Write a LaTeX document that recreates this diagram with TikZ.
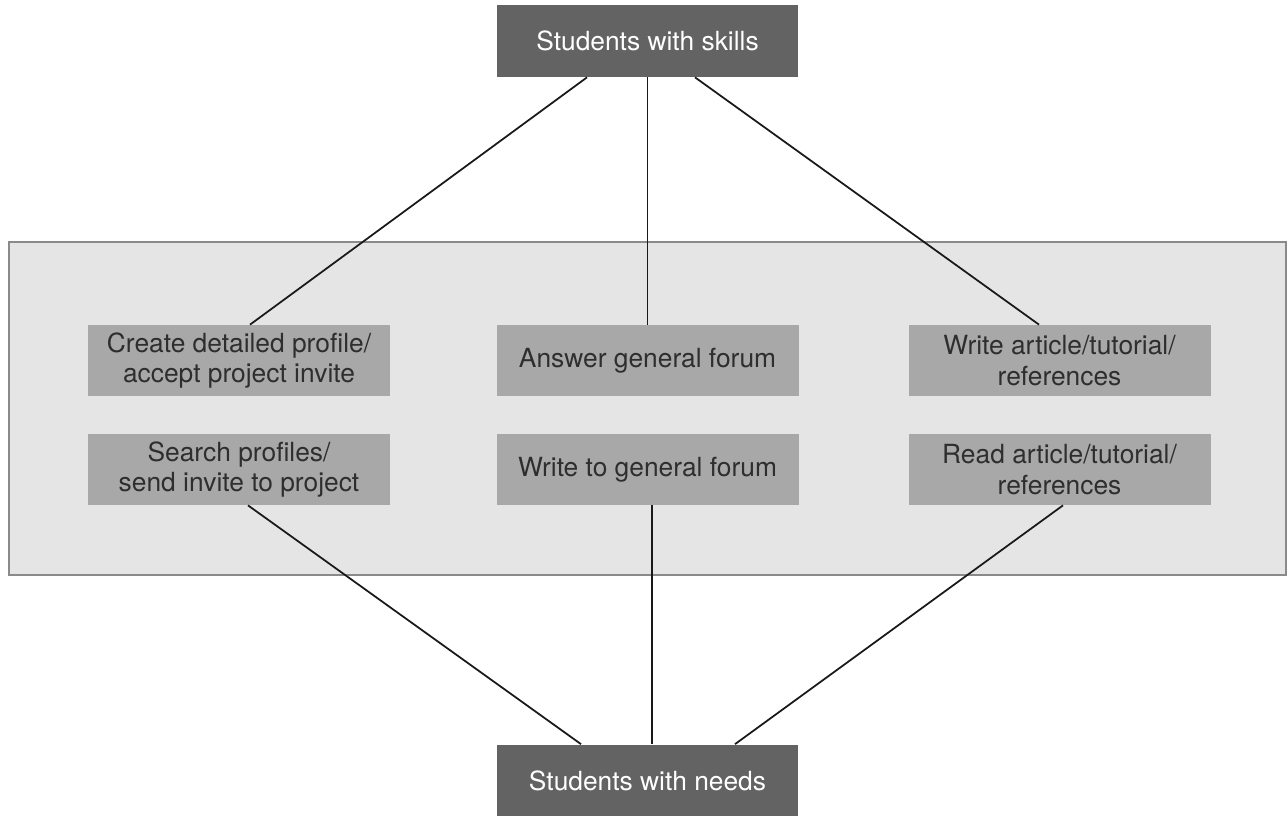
\documentclass[tikz,border=0pt]{standalone}
\usepackage{fontspec}
\setmainfont{TeX Gyre Heros}
\definecolor{darkbox}{HTML}{636363}
\definecolor{midbox}{HTML}{A8A8A8}
\definecolor{panel}{HTML}{E5E5E5}
\definecolor{panelline}{HTML}{8A8A8A}
\definecolor{boxtext}{HTML}{2E2E2E}

\begin{document}
\begin{tikzpicture}[outer/.style={fill=darkbox,text=white,minimum width=6.02cm,minimum height=1.44cm,inner sep=0pt,font=\fontsize{15}{17.5}\selectfont},
    inner/.style={fill=midbox,text=boxtext,minimum width=6.04cm,minimum height=1.42cm,inner sep=0pt,align=center,font=\fontsize{15}{17.5}\selectfont},
    link/.style={line width=1pt,color=black!90}]
    \useasboundingbox (0,0) rectangle (25.76,16.3);
    \fill[white] (0,0) rectangle (25.76,16.3);
    \draw[panelline,fill=panel,line width=0.8pt] (0.18,4.8) rectangle (25.72,11.46);
    \node[outer] (skills) at (12.95,15.48) {Students with skills};
    \node[outer] (needs) at (12.95,0.69) {Students with needs};
    \node[inner] (profile) at (4.78,9.09) {Create detailed profile/\\accept project invite};
    \node[inner] (answer) at (12.95,9.09) {Answer general forum};
    \node[inner] (writeart) at (21.19,9.09) {Write article/tutorial/\\references};
    \node[inner] (search) at (4.78,6.91) {Search profiles/\\send invite to project};
    \node[inner] (writeforum) at (12.95,6.91) {Write to general forum};
    \node[inner] (readart) at (21.19,6.91) {Read article/tutorial/\\references};
    \draw[link] ([xshift=-1.21cm]skills.south)--([xshift=0.22cm]profile.north);
    \draw[link] (skills.south)--(answer.north);
    \draw[link] ([xshift=0.95cm]skills.south)--([xshift=-0.41cm]writeart.north);
    \draw[link] ([xshift=0.18cm]search.south)--([xshift=-1.33cm]needs.north);
    \draw[link] ([xshift=0.09cm]writeforum.south)--([xshift=0.09cm]needs.north);
    \draw[link] ([xshift=0.07cm]readart.south)--([xshift=1.75cm]needs.north);
    \end{tikzpicture}
\end{document}
